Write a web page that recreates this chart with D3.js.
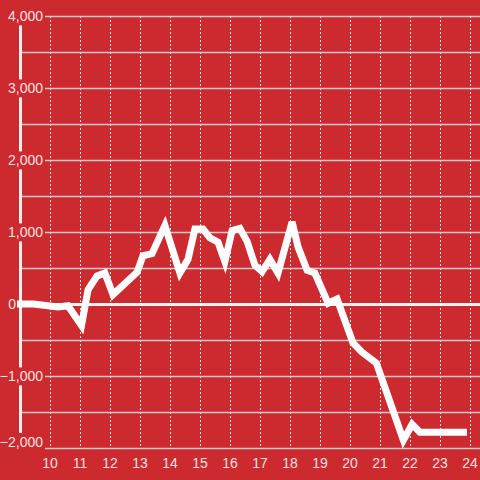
<!DOCTYPE html>
<html>
<head>
<meta charset="utf-8">
<script src="https://cdn.jsdelivr.net/npm/d3@7"></script>
<style>
html,body{margin:0;padding:0;background:#cc2a2f;}
svg{display:block;}
text{font-family:"Liberation Sans",Arial,sans-serif;}
</style>
</head>
<body>
<svg id="c" width="480" height="480"></svg>
<script>
const hours = [8.9, 9.45, 10.27, 10.6, 11.05, 11.27, 11.57, 11.83, 12.1, 12.9, 13.1, 13.4, 13.83, 14.33, 14.6, 14.83, 15.1, 15.33, 15.6, 15.83, 16.07, 16.33, 16.57, 16.83, 17.07, 17.33, 17.6, 18.07, 18.27, 18.57, 18.83, 19.27, 19.57, 20.1, 20.4, 20.88, 21.78, 22.07, 22.33, 23.9];
const values = [0, 0, -40, -25, -300, 200, 390, 430, 130, 440, 670, 700, 1090, 430, 620, 1040, 1040, 920, 860, 590, 1020, 1050, 870, 540, 450, 620, 430, 1140, 790, 470, 430, 10, 70, -540, -670, -820, -1890, -1670, -1780, -1780];
const xTicks = [10, 11, 12, 13, 14, 15, 16, 17, 18, 19, 20, 21, 22, 23, 24];
const yTicks = [4000, 3000, 2000, 1000, 0, -1000, -2000];
const yMinor = [3500, 2500, 1500, 500, -500, -1500];

const svg = d3.select("#c");
const x = d3.scaleLinear().domain([9, 24]).range([20, 470]);
const y = d3.scaleLinear().domain([-2000, 4000]).range([448, 16]);
const fmt = d3.format(",");
const labelColor = "#f5e0e0";
const gridColor = "#d4cccc";

// vertical dotted gridlines
svg.append("g").selectAll("line").data(xTicks).join("line")
  .attr("x1", d => x(d) + 0.5).attr("x2", d => x(d) + 0.5)
  .attr("y1", y(4000)).attr("y2", y(-2000))
  .attr("stroke", "#ece4e4").attr("stroke-width", 1)
  .attr("stroke-dasharray", "2,2");

// minor horizontal gridlines
svg.append("g").selectAll("line").data(yMinor).join("line")
  .attr("x1", 22).attr("x2", 480)
  .attr("y1", d => y(d) + 0.5).attr("y2", d => y(d) + 0.5)
  .attr("stroke", gridColor).attr("stroke-width", 1.3);

// major horizontal gridlines
svg.append("g").selectAll("line").data(yTicks.filter(d => d !== 0)).join("line")
  .attr("x1", 45).attr("x2", 480)
  .attr("y1", d => y(d) + 0.5).attr("y2", d => y(d) + 0.5)
  .attr("stroke", gridColor).attr("stroke-width", 1.3);

// vertical axis line
svg.append("line")
  .attr("x1", 20.5).attr("x2", 20.5)
  .attr("y1", y(4000)).attr("y2", y(-2000))
  .attr("stroke", "#f4f0f0").attr("stroke-width", 3);

// zero line
svg.append("line")
  .attr("x1", 17).attr("x2", 480)
  .attr("y1", y(0) + 0.5).attr("y2", y(0) + 0.5)
  .attr("stroke", "#f8f4f4").attr("stroke-width", 3);

// y labels with background
const yl = svg.append("g").selectAll("g").data(yTicks).join("g")
  .attr("transform", d => {
    const xx = d === 0 ? 16 : 43;
    const yy = y(d) + (d === -2000 ? -6 : 0.5);
    return `translate(${xx},${yy})`;
  });
yl.each(function(d) {
  const g = d3.select(this);
  const t = g.append("text")
    .attr("text-anchor", "end").attr("dy", "0.35em")
    .attr("font-size", 14).attr("fill", labelColor)
    .text(fmt(d));
  const bb = t.node().getBBox();
  g.insert("rect", "text")
    .attr("x", bb.x - 1).attr("y", bb.y - 1)
    .attr("width", bb.width + 2).attr("height", bb.height + 2)
    .attr("fill", "#cc2a2f");
});

// x labels
svg.append("g").selectAll("text").data(xTicks).join("text")
  .attr("x", d => x(d)).attr("y", 468)
  .attr("text-anchor", "middle")
  .attr("font-size", 14).attr("fill", labelColor)
  .text(d => d);

// data line
const data = hours.map((h, i) => [h, values[i]]);
svg.append("path").datum(data)
  .attr("d", d3.line().x(d => x(d[0])).y(d => y(d[1])))
  .attr("fill", "none").attr("stroke", "#ffffff")
  .attr("stroke-width", 7).attr("stroke-linejoin", "miter");
</script>
</body>
</html>
